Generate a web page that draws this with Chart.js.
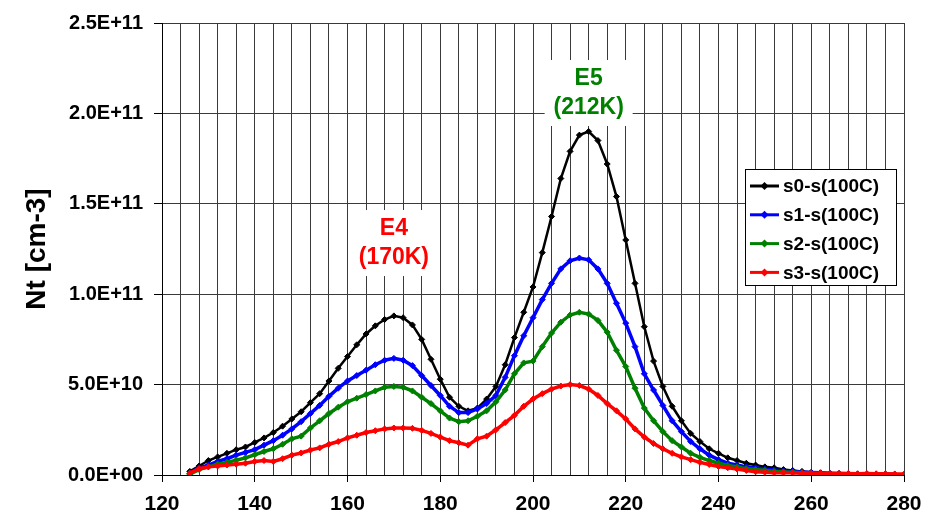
<!DOCTYPE html>
<html>
<head>
<meta charset="utf-8">
<script src="https://cdn.jsdelivr.net/npm/chart.js@4.4.1/dist/chart.umd.min.js"></script>
<style>
  html, body { margin: 0; padding: 0; background: #fff; }
  #wrap { width: 944px; height: 521px; }
</style>
</head>
<body>
<div id="wrap"><canvas id="chart" width="944" height="521"></canvas></div>
<script>
// temperature [K]
const temps = [
  126, 128, 130, 132, 134, 136, 138, 140, 142, 144, 146, 148, 150, 152, 154, 156, 158, 160,
  162, 164, 166, 168, 170, 172, 174, 176, 178, 180, 182, 184, 186, 188, 190, 192, 194, 196,
  198, 200, 202, 204, 206, 208, 210, 212, 214, 216, 218, 220, 222, 224, 226, 228, 230, 232,
  234, 236, 238, 240, 242, 244, 246, 248, 250, 252, 254, 256, 258, 260, 262, 264, 266, 268,
  270, 272, 274, 276, 278, 280,
];

// Nt in units of 1E+10 cm-3
const s0 = [
  0.2, 0.5, 0.8, 1.0, 1.2, 1.4, 1.55, 1.8, 2.05, 2.35, 2.7, 3.1, 3.5, 4.0, 4.5, 5.2, 5.9, 6.55,
  7.2, 7.8, 8.25, 8.6, 8.8, 8.7, 8.3, 7.5, 6.4, 5.3, 4.3, 3.8, 3.55, 3.7, 4.2, 4.9, 6.1, 7.6,
  9.0, 10.4, 12.3, 14.3, 16.4, 17.9, 18.8, 19.0, 18.5, 17.2, 15.4, 13.0, 10.6, 8.2, 6.3, 4.9, 3.8, 3.0,
  2.3, 1.85, 1.45, 1.2, 0.95, 0.8, 0.65, 0.55, 0.45, 0.4, 0.3, 0.25, 0.2, 0.15, 0.12, 0.1, 0.08, null,
  null, null, null, null, null, null,
];
const s1 = [
  0.1, 0.4, 0.55, 0.75, 0.9, 1.1, 1.25, 1.4, 1.65, 1.9, 2.2, 2.55, 2.95, 3.4, 3.85, 4.35, 4.8, 5.2,
  5.5, 5.8, 6.1, 6.35, 6.45, 6.35, 6.05, 5.5, 4.95, 4.4, 3.8, 3.45, 3.45, 3.65, 3.95, 4.4, 5.4, 6.6,
  7.7, 8.7, 9.7, 10.6, 11.4, 11.85, 12.0, 11.9, 11.4, 10.6, 9.5, 8.4, 7.1, 5.6, 4.7, 3.85, 3.0, 2.4,
  1.85, 1.45, 1.1, 0.85, 0.65, 0.55, 0.45, 0.4, 0.32, 0.28, 0.22, 0.2, 0.16, 0.14, 0.12, 0.1, 0.08, 0.07,
  0.06, 0.05, 0.05, 0.05, 0.04, null,
];
const s2 = [
  0.05, 0.3, 0.45, 0.6, 0.7, 0.82, 0.95, 1.12, 1.3, 1.45, 1.7, 2.0, 2.15, 2.6, 3.0, 3.4, 3.75, 4.05,
  4.25, 4.45, 4.65, 4.85, 4.9, 4.85, 4.65, 4.3, 3.95, 3.55, 3.15, 2.95, 3.0, 3.25, 3.55, 4.05, 4.7, 5.6,
  6.2, 6.3, 7.1, 7.85, 8.45, 8.85, 9.0, 8.9, 8.55, 7.9, 6.9, 6.0, 4.8, 3.7, 3.0, 2.4, 1.9, 1.55,
  1.2, 0.98, 0.8, 0.65, 0.53, 0.45, 0.35, 0.3, 0.25, 0.2, 0.17, 0.15, 0.12, 0.1, 0.08, 0.07, 0.06, 0.05,
  null, null, null, null, null, null,
];
const s3 = [
  0.1, 0.35, 0.45, 0.5, 0.55, 0.6, 0.65, 0.75, 0.8, 0.75, 0.9, 1.1, 1.22, 1.38, 1.5, 1.7, 1.85, 2.05,
  2.2, 2.35, 2.45, 2.55, 2.6, 2.6, 2.58, 2.47, 2.3, 2.1, 1.9, 1.78, 1.65, 2.0, 2.15, 2.5, 2.9, 3.3,
  3.8, 4.2, 4.5, 4.75, 4.92, 5.0, 4.95, 4.75, 4.4, 3.95, 3.55, 3.1, 2.55, 2.1, 1.74, 1.45, 1.2, 1.0,
  0.85, 0.7, 0.58, 0.47, 0.4, 0.33, 0.25, 0.18, 0.15, 0.13, 0.12, 0.12, 0.1, 0.1, 0.1, 0.08, 0.08, 0.08,
  0.07, 0.08, 0.07, 0.07, 0.06, 0.05,
];

const seriesLabels = ['s0-s(100C)', 's1-s(100C)', 's2-s(100C)', 's3-s(100C)'];
const seriesColors = ['#000000', '#0000ff', '#008000', '#ff0000'];

// peak annotations: [line1, line2, temperature, Nt of line2 (1E+10), colour]
const peakLabels = [
  ['E4', '(170K)', 170, 12.0, '#ff0000'],
  ['E5', '(212K)', 212, 20.3, '#008000'],
];

const FONT = '"Liberation Sans", Arial, sans-serif';

function sciLabel(v) {
  if (Math.abs(v) < 1) return '0.0E+00';
  const e = Math.floor(Math.log10(Math.abs(v)) + 1e-9);
  const m = v / Math.pow(10, e);
  return `${m.toFixed(1)}E+${String(e).padStart(2, '0')}`;
}

function toPoints(values) {
  return temps.map((t, i) => ({ x: t, y: values[i] == null ? null : values[i] * 1e10 }));
}

const peakLabelPlugin = {
  id: 'peakLabels',
  beforeDatasetsDraw(chart) {
    const { ctx, scales } = chart;
    ctx.save();
    ctx.font = `bold 23px ${FONT}`;
    ctx.textAlign = 'center';
    ctx.textBaseline = 'middle';
    peakLabels.forEach(([l1, l2, t, n, color]) => {
      const cx = scales.x.getPixelForValue(t);
      const cy = scales.y.getPixelForValue(n * 1e10);
      ctx.fillStyle = '#fff';
      ctx.fillRect(cx - 44, cy - 48, 88, 66);
      ctx.fillStyle = color;
      ctx.fillText(l1, cx, cy - 29);
      ctx.fillText(l2, cx, cy);
    });
    ctx.restore();
  },
};

const boxLegendPlugin = {
  id: 'boxLegend',
  afterDraw(chart) {
    const { ctx, chartArea } = chart;
    const right = chartArea.right - 7;
    const left = right - 152;
    const top = 169;
    const rowH = 28.8;
    ctx.save();
    ctx.fillStyle = '#fff';
    ctx.fillRect(left, top, right - left, 116);
    ctx.strokeStyle = '#000';
    ctx.lineWidth = 1;
    ctx.strokeRect(left + 0.5, top + 0.5, right - left - 1, 116);
    ctx.font = `bold 19px ${FONT}`;
    ctx.textBaseline = 'middle';
    chart.data.datasets.forEach((ds, i) => {
      const y = top + 17 + i * rowH;
      ctx.strokeStyle = ds.borderColor;
      ctx.lineWidth = 3;
      ctx.beginPath();
      ctx.moveTo(left + 5, y);
      ctx.lineTo(left + 34, y);
      ctx.stroke();
      ctx.fillStyle = ds.borderColor;
      ctx.beginPath();
      ctx.moveTo(left + 19.5, y - 4);
      ctx.lineTo(left + 23.5, y);
      ctx.lineTo(left + 19.5, y + 4);
      ctx.lineTo(left + 15.5, y);
      ctx.closePath();
      ctx.fill();
      ctx.fillStyle = '#000';
      ctx.fillText(ds.label, left + 38, y + 1);
    });
    ctx.restore();
  },
};

const datasets = [s0, s1, s2, s3].map((values, i) => ({
  label: seriesLabels[i],
  data: toPoints(values),
  borderColor: seriesColors[i],
  backgroundColor: seriesColors[i],
  borderWidth: i === 0 ? 2.5 : 3.5,
  pointStyle: 'rectRot',
  pointRadius: 3,
  pointBorderWidth: 1,
  pointBorderColor: seriesColors[i],
  pointBackgroundColor: seriesColors[i],
  fill: false,
  tension: 0,
  order: 4 - i,
}));

new Chart(document.getElementById('chart'), {
  type: 'line',
  data: { datasets },
  plugins: [peakLabelPlugin, boxLegendPlugin],
  options: {
    responsive: false,
    animation: false,
    devicePixelRatio: 1,
    layout: { padding: { top: 16, right: 40, left: 0, bottom: 0 } },
    plugins: {
      legend: { display: false },
      tooltip: { enabled: false },
    },
    scales: {
      x: {
        type: 'linear',
        min: 120,
        max: 280,
        afterFit: (scale) => { scale.height = 46; },
        border: { display: true, color: '#000', width: 1 },
        grid: {
          color: '#3a3a3a',
          lineWidth: 1,
          tickLength: 7,
          tickColor: (c) => (c.tick && c.tick.value % 20 === 0 ? '#000' : 'rgba(0,0,0,0)'),
        },
        ticks: {
          stepSize: 4,
          autoSkip: false,
          maxRotation: 0,
          padding: 10,
          color: '#000',
          font: { family: FONT, size: 21, weight: 'bold' },
          callback: (v) => (v % 20 === 0 ? String(v) : ''),
        },
      },
      y: {
        min: 0,
        max: 2.5e11,
        afterFit: (scale) => { scale.width = 162; },
        border: { display: true, color: '#000', width: 1 },
        grid: { color: '#3a3a3a', lineWidth: 1, tickLength: 8, tickColor: '#000' },
        ticks: {
          stepSize: 5e10,
          padding: 11,
          color: '#000',
          font: { family: FONT, size: 20, weight: 'bold' },
          callback: (v) => sciLabel(v),
        },
        title: {
          display: true,
          text: 'Nt [cm-3]',
          color: '#000',
          font: { family: FONT, size: 28, weight: 'bold' },
          padding: { top: 20, bottom: 0 },
        },
      },
    },
  },
});
</script>
</body>
</html>
